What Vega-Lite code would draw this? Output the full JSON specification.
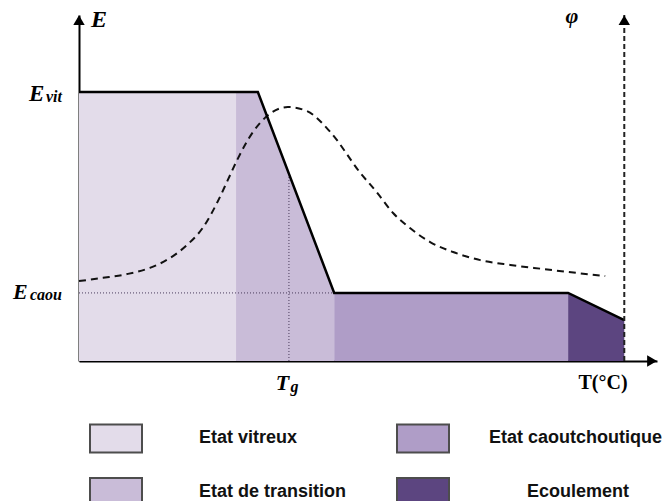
{
"$schema": "https://vega.github.io/schema/vega-lite/v6.json",
"width": 578, "height": 346,
"autosize": {"type": "none"},
"padding": {"left": 79, "top": 15, "right": 10, "bottom": 140},
"background": "white",
"config": {"view": {"stroke": null}, "axis": {"ticks": false, "labels": false, "grid": false, "domainColor": "#000", "domainWidth": 2, "zindex": 1}},
"datasets": {
"phases": [
{"phase": "Etat vitreux", "T": 0, "E": 100}, {"phase": "Etat vitreux", "T": 28.8, "E": 100},
{"phase": "Etat de transition", "T": 28.8, "E": 100}, {"phase": "Etat de transition", "T": 32.8, "E": 100}, {"phase": "Etat de transition", "T": 46.8, "E": 25.3},
{"phase": "Etat caoutchoutique", "T": 46.8, "E": 25.3}, {"phase": "Etat caoutchoutique", "T": 89.7, "E": 25.3},
{"phase": "Ecoulement", "T": 89.7, "E": 25.3}, {"phase": "Ecoulement", "T": 100, "E": 15.2}
],
"modulus": [
{"T": 0, "E": 100}, {"T": 32.8, "E": 100}, {"T": 46.8, "E": 25.3}, {"T": 89.7, "E": 25.3}, {"T": 100, "E": 15.2}
],
"phi": [
{"T": 0, "E": 29.7}, {"T": 4.4, "E": 30.9}, {"T": 8.8, "E": 32.3}, {"T": 13.0, "E": 34.6}, {"T": 16.7, "E": 38.3},
{"T": 19.8, "E": 43.1}, {"T": 22.8, "E": 49.8}, {"T": 25.3, "E": 58.7}, {"T": 27.3, "E": 67.3}, {"T": 29.0, "E": 74.7},
{"T": 31.9, "E": 85.1}, {"T": 34.7, "E": 91.4}, {"T": 38.3, "E": 94.4}, {"T": 41.8, "E": 92.9}, {"T": 46.1, "E": 85.1},
{"T": 51.6, "E": 69.9}, {"T": 54.7, "E": 62.5}, {"T": 57.6, "E": 55.0}, {"T": 60.7, "E": 49.4}, {"T": 64.4, "E": 44.2},
{"T": 68.6, "E": 40.5}, {"T": 73.6, "E": 37.5}, {"T": 79.1, "E": 35.7}, {"T": 85.1, "E": 34.2}, {"T": 91.4, "E": 32.7}, {"T": 96.5, "E": 31.6}
],
"guides": [
{"g": "h", "T": 0, "E": 25.3}, {"g": "h", "T": 46.8, "E": 25.3},
{"g": "v", "T": 38.5, "E": 0}, {"g": "v", "T": 38.5, "E": 69.5}
],
"phiAxis": [{"T": 100, "E0": 0, "E1": 128.6}],
"arrows": [
{"T": 0, "E": 126.7, "shape": "triangle-up"},
{"T": 100, "E": 126.7, "shape": "triangle-up"},
{"T": 105.1, "E": 0, "shape": "triangle-right"}
],
"labels": [
{"kind": "Evit", "T": 0, "E": 100, "text": "E"},
{"kind": "vit", "T": 0, "E": 100, "text": "vit"},
{"kind": "Ecaou", "T": 0, "E": 25.3, "text": "E"},
{"kind": "caou", "T": 0, "E": 25.3, "text": "caou"},
{"kind": "Etop", "T": 0, "E": 128.6, "text": "E"},
{"kind": "phi", "T": 100, "E": 128.6, "text": "φ"},
{"kind": "Tg", "T": 36.1, "E": 0, "text": "T"},
{"kind": "g", "T": 38.8, "E": 0, "text": "g"},
{"kind": "TC", "T": 96.1, "E": 0, "text": "T(°C)"}
]
},
"layer": [
{
"data": {"name": "phases"},
"mark": {"type": "area", "opacity": 1},
"encoding": {
"x": {"field": "T", "type": "quantitative", "scale": {"domain": [0, 106], "nice": false, "zero": false}, "title": null},
"y": {"field": "E", "type": "quantitative", "stack": null, "scale": {"domain": [0, 128.6], "nice": false}, "title": null},
"y2": {"datum": 0},
"fill": {"field": "phase", "type": "nominal",
"scale": {"domain": ["Etat vitreux", "Etat de transition", "Etat caoutchoutique", "Ecoulement"], "range": ["#e3dcea", "#c9bcd8", "#af9dc7", "#5c4580"]},
"legend": {"title": null, "orient": "none", "legendX": 10, "legendY": 396, "columns": 2, "columnPadding": 46, "rowPadding": 8,
"symbolType": "M-1,-0.54H1V0.54H-1Z", "symbolSize": 2704, "symbolStrokeColor": "#4d4d4d", "symbolStrokeWidth": 2, "symbolOpacity": 1,
"labelFont": "Liberation Sans", "labelFontWeight": "bold", "labelFontSize": 18, "labelColor": "#111", "labelOffset": 56, "labelLimit": 300, "padding": 0,
"encode": {"labels": {"update": {"dx": {"signal": "datum.label === 'Etat caoutchoutique' ? -17 : datum.label === 'Ecoulement' ? 21 : 0"}}}}}
}
}
},
{
"data": {"name": "guides"},
"mark": {"type": "line", "color": "#4a3b5c", "strokeWidth": 1, "strokeDash": [1, 2]},
"encoding": {
"x": {"field": "T", "type": "quantitative", "title": null},
"y": {"field": "E", "type": "quantitative", "title": null},
"detail": {"field": "g"}
}
},
{
"data": {"name": "phi"},
"mark": {"type": "line", "color": "#111", "strokeWidth": 2, "strokeDash": [7, 5], "interpolate": "monotone"},
"encoding": {
"x": {"field": "T", "type": "quantitative", "title": null},
"y": {"field": "E", "type": "quantitative", "title": null}
}
},
{
"data": {"name": "modulus"},
"mark": {"type": "line", "color": "#000", "strokeWidth": 2.5},
"encoding": {
"x": {"field": "T", "type": "quantitative", "title": null},
"y": {"field": "E", "type": "quantitative", "title": null}
}
},
{
"data": {"name": "phiAxis"},
"mark": {"type": "rule", "color": "#222", "strokeWidth": 2, "strokeDash": [5, 3]},
"encoding": {
"x": {"field": "T", "type": "quantitative", "title": null},
"y": {"field": "E0", "type": "quantitative", "title": null},
"y2": {"field": "E1"}
}
},
{
"data": {"name": "arrows"},
"mark": {"type": "point", "filled": true, "color": "#000", "opacity": 1, "size": 130},
"encoding": {
"x": {"field": "T", "type": "quantitative", "title": null},
"y": {"field": "E", "type": "quantitative", "title": null},
"shape": {"field": "shape", "type": "nominal", "scale": null}
}
},
{
"data": {"name": "labels"},
"transform": [{"filter": "datum.kind === 'Evit'"}],
"mark": {"type": "text", "font": "Liberation Serif", "fontStyle": "italic", "fontWeight": "bold", "fontSize": 23, "align": "left", "baseline": "alphabetic", "dx": -50, "dy": 9, "color": "#000"},
"encoding": {"x": {"field": "T", "type": "quantitative", "title": null}, "y": {"field": "E", "type": "quantitative", "title": null}, "text": {"field": "text"}}
},
{
"data": {"name": "labels"},
"transform": [{"filter": "datum.kind === 'vit'"}],
"mark": {"type": "text", "font": "Liberation Serif", "fontStyle": "italic", "fontWeight": "bold", "fontSize": 16, "align": "right", "baseline": "alphabetic", "dx": -17, "dy": 10, "color": "#000"},
"encoding": {"x": {"field": "T", "type": "quantitative", "title": null}, "y": {"field": "E", "type": "quantitative", "title": null}, "text": {"field": "text"}}
},
{
"data": {"name": "labels"},
"transform": [{"filter": "datum.kind === 'Ecaou'"}],
"mark": {"type": "text", "font": "Liberation Serif", "fontStyle": "italic", "fontWeight": "bold", "fontSize": 22, "align": "left", "baseline": "alphabetic", "dx": -66, "dy": 6, "color": "#000"},
"encoding": {"x": {"field": "T", "type": "quantitative", "title": null}, "y": {"field": "E", "type": "quantitative", "title": null}, "text": {"field": "text"}}
},
{
"data": {"name": "labels"},
"transform": [{"filter": "datum.kind === 'caou'"}],
"mark": {"type": "text", "font": "Liberation Serif", "fontStyle": "italic", "fontWeight": "bold", "fontSize": 16, "align": "right", "baseline": "alphabetic", "dx": -17, "dy": 7, "color": "#000"},
"encoding": {"x": {"field": "T", "type": "quantitative", "title": null}, "y": {"field": "E", "type": "quantitative", "title": null}, "text": {"field": "text"}}
},
{
"data": {"name": "labels"},
"transform": [{"filter": "datum.kind === 'Etop'"}],
"mark": {"type": "text", "font": "Liberation Serif", "fontStyle": "italic", "fontWeight": "bold", "fontSize": 24, "align": "left", "baseline": "alphabetic", "dx": 12, "dy": 12, "color": "#000"},
"encoding": {"x": {"field": "T", "type": "quantitative", "title": null}, "y": {"field": "E", "type": "quantitative", "title": null}, "text": {"field": "text"}}
},
{
"data": {"name": "labels"},
"transform": [{"filter": "datum.kind === 'phi'"}],
"mark": {"type": "text", "font": "Liberation Serif", "fontStyle": "italic", "fontWeight": "bold", "fontSize": 22, "align": "right", "baseline": "middle", "dx": -46, "dy": 1, "color": "#000"},
"encoding": {"x": {"field": "T", "type": "quantitative", "title": null}, "y": {"field": "E", "type": "quantitative", "title": null}, "text": {"field": "text"}}
},
{
"data": {"name": "labels"},
"transform": [{"filter": "datum.kind === 'Tg'"}],
"mark": {"type": "text", "font": "Liberation Serif", "fontStyle": "italic", "fontWeight": "bold", "fontSize": 22, "align": "left", "baseline": "alphabetic", "dy": 29, "color": "#000"},
"encoding": {"x": {"field": "T", "type": "quantitative", "title": null}, "y": {"field": "E", "type": "quantitative", "title": null}, "text": {"field": "text"}}
},
{
"data": {"name": "labels"},
"transform": [{"filter": "datum.kind === 'g'"}],
"mark": {"type": "text", "font": "Liberation Serif", "fontStyle": "italic", "fontWeight": "bold", "fontSize": 16, "align": "left", "baseline": "alphabetic", "dy": 31, "color": "#000"},
"encoding": {"x": {"field": "T", "type": "quantitative", "title": null}, "y": {"field": "E", "type": "quantitative", "title": null}, "text": {"field": "text"}}
},
{
"data": {"name": "labels"},
"transform": [{"filter": "datum.kind === 'TC'"}],
"mark": {"type": "text", "font": "Liberation Serif", "fontWeight": "bold", "fontSize": 20, "align": "center", "baseline": "middle", "dy": 22, "color": "#000"},
"encoding": {"x": {"field": "T", "type": "quantitative", "title": null}, "y": {"field": "E", "type": "quantitative", "title": null}, "text": {"field": "text"}}
}
]
}
